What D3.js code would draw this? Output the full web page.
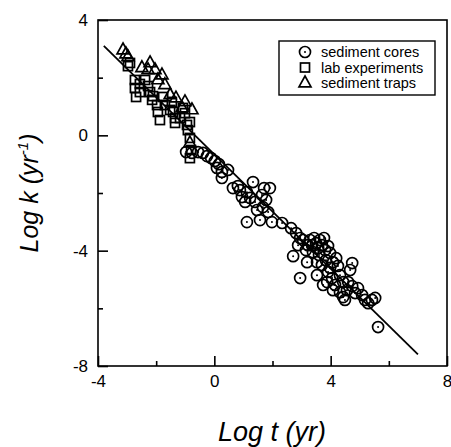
<!DOCTYPE html>
<html lang="en">
	<head>
		<meta charset="utf-8">
		<title>Log k vs Log t</title>
		<script type="text/javascript" src="https://cdnjs.cloudflare.com/ajax/libs/d3/7.8.5/d3.min.js"></script>
		<style type="text/css">
			body { margin: 0; background: #fff; }
			text { font-family: "Liberation Sans", Arial, sans-serif; }
		</style>
	</head>
	<body>
		<script type="text/javascript">

			//Sediment cores (circles)
			var coresX = [-0.97,-0.77,-0.56,-0.39,-0.25,-0.11,0.02,0.16,0.09,0.26,0.26,0.47,0.64,0.81,0.88,0.95,1.12,1.06,1.23,1.33,1.40,1.47,1.64,1.67,1.78,1.85,1.91,1.71,1.12,1.57,1.98,2.33,2.64,2.81,2.95,2.71,2.95,2.88,3.05,3.15,3.19,3.29,3.36,3.43,3.50,3.57,3.63,3.70,3.77,3.39,3.22,3.60,3.81,3.91,3.98,3.53,3.70,3.84,3.98,4.08,4.19,4.25,3.53,3.74,3.91,4.05,4.15,4.32,4.43,4.43,4.56,4.67,4.74,4.60,4.32,4.74,4.84,4.94,5.08,5.18,5.29,5.42,5.53,5.63,4.08,4.49,3.88];
			var coresY = [-0.58,-0.61,-0.58,-0.61,-0.72,-0.79,-0.89,-1.00,-1.13,-1.27,-1.48,-1.20,-1.83,-1.76,-1.90,-2.14,-1.97,-2.31,-2.17,-1.62,-2.31,-2.59,-2.07,-2.49,-2.24,-2.66,-1.83,-1.83,-3.01,-2.94,-3.01,-3.04,-3.22,-3.39,-3.56,-4.19,-4.95,-3.81,-3.63,-3.98,-4.40,-3.63,-3.81,-3.56,-3.74,-3.91,-3.63,-3.81,-3.56,-4.05,-3.81,-4.15,-3.98,-3.84,-4.08,-4.40,-4.50,-4.33,-4.60,-4.40,-4.26,-4.53,-4.85,-5.19,-4.74,-4.95,-5.19,-4.85,-5.09,-5.61,-5.37,-4.67,-4.43,-5.09,-5.44,-5.23,-5.47,-5.30,-5.54,-5.71,-5.82,-5.71,-5.64,-6.65,-5.37,-5.71,-5.09];

			//Lab experiments (squares)
			var labX = [-2.90,-2.97,-2.73,-2.73,-2.69,-2.56,-2.38,-2.28,-2.21,-2.11,-2.14,-1.97,-1.94,-1.76,-1.70,-1.46,-1.52,-1.42,-1.35,-1.35,-1.18,-1.08,-1.01,-0.94,-0.84,-0.91,-0.84,-0.80,-0.84,-2.56,-1.87];
			var labY = [2.51,2.40,1.92,1.64,1.33,1.78,1.92,1.71,1.50,1.36,1.23,1.05,0.81,1.33,1.05,1.16,0.88,0.81,0.60,0.43,0.60,0.95,0.77,0.36,0.46,0.18,-0.09,-0.51,-0.79,1.50,0.53];

			//Sediment traps (triangles)
			var trapsX = [-3.14,-3.04,-2.97,-2.21,-2.28,-2.04,-1.80,-1.94,-1.70,-1.52,-1.32,-1.01,-0.77,-0.84,-1.11,-2.49];
			var trapsY = [2.96,2.82,2.72,2.51,2.27,2.27,2.09,1.92,1.75,1.40,1.29,1.16,0.88,-0.27,0.95,2.34];

			//Regression line end points
			var fitX = [-3.8, 7.0];
			var fitY = [3.1, -7.6];

			//Axis ticks
			var xMajor = [-4, 0, 4, 8];
			var xMinor = [-2, 2, 6];
			var yMajor = [-8, -4, 0, 4];
			var yMinor = [-6, -2, 2];

			var legendLabels = ["sediment cores", "lab experiments", "sediment traps"];

			//Width and height
			var w = 451;
			var h = 447;
			var plotL = 98, plotR = 447, plotT = 20, plotB = 366;

			var xScale = d3.scaleLinear().domain([-4, 8]).range([plotL, plotR]);
			var yScale = d3.scaleLinear().domain([-8, 4]).range([plotB, plotT]);

			var svg = d3.select("body")
						.append("svg")
						.attr("width", w)
						.attr("height", h);

			//Frame
			svg.append("rect")
			   .attr("x", plotL)
			   .attr("y", plotT)
			   .attr("width", plotR - plotL)
			   .attr("height", plotB - plotT)
			   .attr("fill", "none")
			   .attr("stroke", "#000")
			   .attr("stroke-width", 1.6);

			//Axes, ticks pointing inward
			function styleAxis(g, labels) {
				g.select(".domain").remove();
				g.selectAll(".tick line").attr("stroke", "#000").attr("stroke-width", 1.6);
				g.selectAll(".tick text")
				 .attr("font-size", 17)
				 .attr("font-family", "Liberation Sans, Arial, sans-serif")
				 .attr("fill", "#000");
				if (!labels) g.selectAll(".tick text").remove();
			}

			svg.append("g")
			   .attr("transform", `translate(0,${plotB})`)
			   .call(d3.axisBottom(xScale).tickValues(xMajor).tickSize(-10).tickPadding(9).tickFormat(d => String(d)))
			   .call(g => styleAxis(g, true));
			svg.append("g")
			   .attr("transform", `translate(0,${plotB})`)
			   .call(d3.axisBottom(xScale).tickValues(xMinor).tickSize(-5))
			   .call(g => styleAxis(g, false));
			svg.append("g")
			   .attr("transform", `translate(${plotL},0)`)
			   .call(d3.axisLeft(yScale).tickValues(yMajor).tickSize(-10).tickPadding(10).tickFormat(d => String(d)))
			   .call(g => styleAxis(g, true));
			svg.append("g")
			   .attr("transform", `translate(${plotL},0)`)
			   .call(d3.axisLeft(yScale).tickValues(yMinor).tickSize(-5))
			   .call(g => styleAxis(g, false));

			//Axis titles
			svg.append("text")
			   .attr("x", 272)
			   .attr("y", 441)
			   .attr("text-anchor", "middle")
			   .attr("font-size", 27)
			   .attr("font-style", "italic")
			   .text("Log t (yr)");

			var yTitle = svg.append("text")
			   .attr("transform", "translate(38,193) rotate(-90)")
			   .attr("text-anchor", "middle")
			   .attr("font-size", 25)
			   .attr("font-style", "italic");
			yTitle.append("tspan").text("Log k (yr");
			yTitle.append("tspan").attr("font-size", 15).attr("dy", -10).text("-1");
			yTitle.append("tspan").attr("dy", 10).text(")");

			//Markers
			var sym = {
				circle: function(g) {
					g.append("circle").attr("r", 5.5).attr("fill", "none").attr("stroke", "#000").attr("stroke-width", 1.7);
					g.append("circle").attr("r", 1).attr("fill", "#000");
				},
				square: function(g) {
					g.append("rect").attr("x", -4.5).attr("y", -4.5).attr("width", 9).attr("height", 9)
					 .attr("fill", "none").attr("stroke", "#000").attr("stroke-width", 1.7);
				},
				triangle: function(g) {
					g.append("path").attr("d", "M0,-7L6,3.8L-6,3.8Z")
					 .attr("fill", "none").attr("stroke", "#000").attr("stroke-width", 1.7);
				}
			};

			function drawSeries(xs, ys, kind) {
				svg.append("g")
				   .selectAll("g")
				   .data(d3.zip(xs, ys))
				   .enter()
				   .append("g")
				   .attr("transform", d => `translate(${xScale(d[0])},${yScale(d[1])})`)
				   .each(function() { sym[kind](d3.select(this)); });
			}

			drawSeries(labX, labY, "square");
			drawSeries(trapsX, trapsY, "triangle");
			drawSeries(coresX, coresY, "circle");

			//Fitted line
			svg.append("path")
			   .datum(d3.zip(fitX, fitY))
			   .attr("d", d3.line().x(d => xScale(d[0])).y(d => yScale(d[1])))
			   .attr("fill", "none")
			   .attr("stroke", "#000")
			   .attr("stroke-width", 1.8);

			//Legend
			var legend = svg.append("g").attr("transform", "translate(279,41)");
			legend.append("rect")
				  .attr("width", 156)
				  .attr("height", 54)
				  .attr("fill", "#fff")
				  .attr("stroke", "#000")
				  .attr("stroke-width", 1.4);
			var kinds = ["circle", "square", "triangle"];
			legendLabels.forEach(function(lab, i) {
				var row = legend.append("g").attr("transform", `translate(26,${11 + i * 15.5})`);
				sym[kinds[i]](row);
				row.append("text")
				   .attr("x", 16)
				   .attr("y", 5)
				   .attr("font-size", 14.5)
				   .text(lab);
			});

		</script>
	</body>
</html>
